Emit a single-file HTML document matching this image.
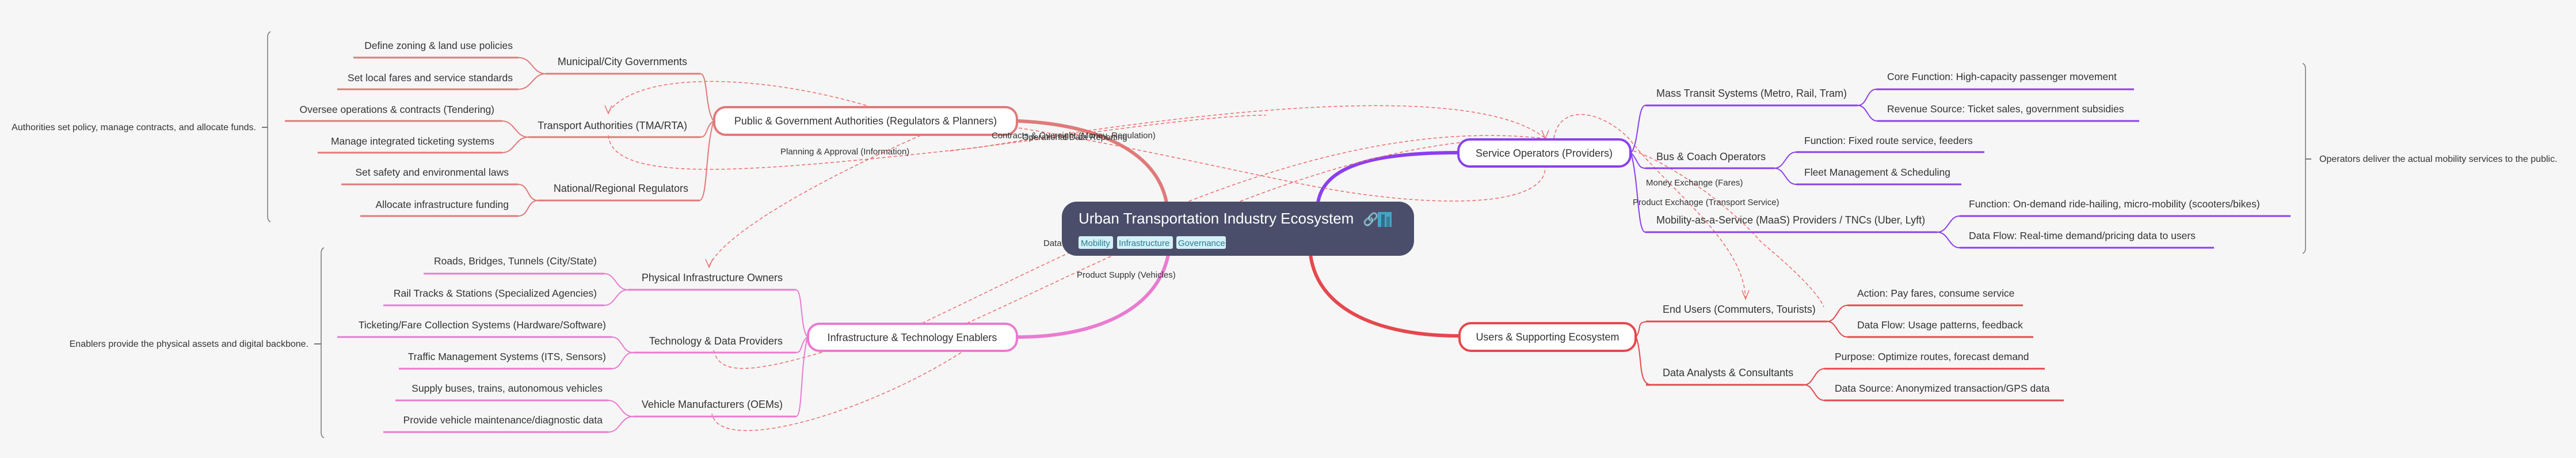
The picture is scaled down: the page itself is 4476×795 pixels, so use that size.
<!DOCTYPE html>
<html><head><meta charset="utf-8"><style>
html,body{margin:0;padding:0;background:#f6f6f6;}
svg{display:block;}
text{font-family:"Liberation Sans",sans-serif;fill:#333;}
.l2{font-size:18px;}
.lf{font-size:17.5px;}
.sm{font-size:16px;}
.cl{font-size:15px;}
.nd{font-size:18px;}
</style></head><body>
<svg width="4476" height="795" viewBox="0 0 4476 795" xmlns="http://www.w3.org/2000/svg">
<rect width="4476" height="795" fill="#f6f6f6"/>

<path d="M2027 352 C2010 260 1900 215 1768 210" stroke="#e07a7a" stroke-width="6" fill="none"/>
<path d="M2290 352 C2300 290 2380 265 2533 265" stroke="#8a3ff0" stroke-width="6" fill="none"/>
<path d="M2030 442 C2010 540 1900 585 1768 585" stroke="#ea7bd0" stroke-width="6" fill="none"/>
<path d="M2277 442 C2290 540 2400 583 2535 583" stroke="#e5484d" stroke-width="6" fill="none"/>

<g stroke="#ee6b6b" stroke-width="1.5" fill="none" stroke-dasharray="6,4">
<path d="M1515 186 C1330 130 1110 120 1057 195"/>
<path d="M1057 235 C1065 320 1300 300 1700 256 C2100 190 2560 140 2685 240"/>
<path d="M1770 222 C2000 260 2200 310 2320 330 C2500 360 2685 360 2685 290"/>
<path d="M1600 235 C1450 300 1260 400 1232 462"/>
<path d="M1602 561 C1900 420 2300 200 2680 240"/>
<path d="M1680 561 C1950 440 2350 220 2690 243"/>
<path d="M1240 608 C1250 650 1300 650 1440 608"/>
<path d="M1670 612 C1500 720 1250 790 1237 718"/>
<path d="M1650 262 C1900 230 2100 200 2200 200"/>
<path d="M2700 240 C2710 180 2780 190 2830 240 C2900 330 3030 420 3033 518"/>
<path d="M2838 262 C2870 270 2980 330 3060 420 C3120 470 3160 510 3169 533"/>
</g>
<g stroke="#ee6b6b" stroke-width="1.5" fill="none">
<path d="M1051 183 L1057 197 L1063 183"/>
<path d="M2679 226 L2685 241 L2691 226"/>
<path d="M1226 450 L1232 464 L1238 450"/>
<path d="M3027 504 L3033 519 L3039 504"/>
</g>

<g stroke="#e07a7a" fill="none">
<path d="M1240 210 C1225 190 1230 128 1217 128" stroke-width="2"/>
<path d="M1240 210 C1225 220 1230 238 1217 238" stroke-width="2"/>
<path d="M1240 210 C1225 260 1230 348 1215 348" stroke-width="2"/>
<path d="M948 128 H1217 M614 100 H901 M586 155 H900 M918 238 H1217 M495 210 H872 M552 265 H872 M935 348 H1215 M593 320 H900 M626 375 H900" stroke-width="3"/>
<path d="M948 128 C925 128 925 100 901 100 M948 128 C925 128 925 155 900 155" stroke-width="2"/>
<path d="M918 238 C895 238 895 210 872 210 M918 238 C895 238 895 265 872 265" stroke-width="2"/>
<path d="M935 348 C915 348 920 320 900 320 M935 348 C915 348 920 375 900 375" stroke-width="2"/>
</g>
<g class="l2" text-anchor="end">
<text x="1194" y="113">Municipal/City Governments</text>
<text x="1194" y="224">Transport Authorities (TMA/RTA)</text>
<text x="1196" y="333">National/Regional Regulators</text>
</g>
<g class="lf" text-anchor="end">
<text x="891" y="85">Define zoning &amp; land use policies</text>
<text x="891" y="141">Set local fares and service standards</text>
<text x="859" y="196">Oversee operations &amp; contracts (Tendering)</text>
<text x="859" y="251">Manage integrated ticketing systems</text>
<text x="884" y="305">Set safety and environmental laws</text>
<text x="884" y="361">Allocate infrastructure funding</text>
</g>
<path d="M470 55 Q465 57 465 65 V375 Q465 383 470 385" stroke="#777" stroke-width="1.5" fill="none"/>
<path d="M455 221 H465" stroke="#777" stroke-width="2"/>
<text class="sm" x="445" y="226" text-anchor="end">Authorities set policy, manage contracts, and allocate funds.</text>

<g stroke="#ea7bd0" fill="none">
<path d="M1403 585 C1390 570 1395 503 1383 503" stroke-width="2"/>
<path d="M1403 585 C1390 595 1395 612 1383 612" stroke-width="2"/>
<path d="M1403 585 C1390 640 1395 723 1383 723" stroke-width="2"/>
<path d="M1091 503 H1383 M736 475 H1050 M666 530 H1050 M1100 612 H1383 M586 585 H1063 M693 640 H1063 M1100 723 H1383 M687 695 H1057 M666 750 H1057" stroke-width="3"/>
<path d="M1091 503 C1070 503 1070 475 1050 475 M1091 503 C1070 503 1070 530 1050 530" stroke-width="2"/>
<path d="M1100 612 C1080 612 1082 585 1063 585 M1100 612 C1080 612 1082 640 1063 640" stroke-width="2"/>
<path d="M1100 723 C1078 723 1078 695 1057 695 M1100 723 C1078 723 1078 750 1057 750" stroke-width="2"/>
</g>
<g class="l2" text-anchor="end">
<text x="1360" y="488">Physical Infrastructure Owners</text>
<text x="1360" y="598">Technology &amp; Data Providers</text>
<text x="1360" y="708">Vehicle Manufacturers (OEMs)</text>
</g>
<g class="lf" text-anchor="end">
<text x="1037" y="459">Roads, Bridges, Tunnels (City/State)</text>
<text x="1037" y="515">Rail Tracks &amp; Stations (Specialized Agencies)</text>
<text x="1053" y="570">Ticketing/Fare Collection Systems (Hardware/Software)</text>
<text x="1053" y="625">Traffic Management Systems (ITS, Sensors)</text>
<text x="1047" y="680">Supply buses, trains, autonomous vehicles</text>
<text x="1047" y="735">Provide vehicle maintenance/diagnostic data</text>
</g>
<path d="M563 430 Q558 432 558 440 V750 Q558 758 563 760" stroke="#777" stroke-width="1.5" fill="none"/>
<path d="M546 597 H558" stroke="#777" stroke-width="2"/>
<text class="sm" x="536" y="602" text-anchor="end">Enablers provide the physical assets and digital backbone.</text>

<g stroke="#8a3ff0" fill="none">
<path d="M2834 265 C2848 250 2845 183 2859 183" stroke-width="2"/>
<path d="M2834 265 C2848 280 2845 292 2859 292" stroke-width="2"/>
<path d="M2834 265 C2848 320 2845 403 2859 403" stroke-width="2"/>
<path d="M2859 183 H3228 M3260 155 H3708 M3262 210 H3717 M2859 292 H3083 M3121 264 H3448 M3121 320 H3408 M2859 403 H3366 M3405 375 H3980 M3405 430 H3847" stroke-width="3"/>
<path d="M3228 183 C3245 183 3243 155 3260 155 M3228 183 C3245 183 3245 210 3262 210" stroke-width="2"/>
<path d="M3083 292 C3102 292 3102 264 3121 264 M3083 292 C3102 292 3102 320 3121 320" stroke-width="2"/>
<path d="M3366 403 C3386 403 3386 375 3405 375 M3366 403 C3386 403 3386 430 3405 430" stroke-width="2"/>
</g>
<g class="l2">
<text x="2878" y="168">Mass Transit Systems (Metro, Rail, Tram)</text>
<text x="2878" y="278">Bus &amp; Coach Operators</text>
<text x="2878" y="388">Mobility-as-a-Service (MaaS) Providers / TNCs (Uber, Lyft)</text>
</g>
<g class="lf">
<text x="3279" y="139">Core Function: High-capacity passenger movement</text>
<text x="3279" y="195">Revenue Source: Ticket sales, government subsidies</text>
<text x="3135" y="250">Function: Fixed route service, feeders</text>
<text x="3135" y="305">Fleet Management &amp; Scheduling</text>
<text x="3421" y="360">Function: On-demand ride-hailing, micro-mobility (scooters/bikes)</text>
<text x="3421" y="415">Data Flow: Real-time demand/pricing data to users</text>
</g>
<text class="cl" x="2860" y="322">Money Exchange (Fares)</text>
<text class="cl" x="2837" y="356">Product Exchange (Transport Service)</text>
<path d="M4001 110 Q4006 112 4006 120 V430 Q4006 438 4001 440" stroke="#777" stroke-width="1.5" fill="none"/>
<path d="M4006 276 H4016" stroke="#777" stroke-width="2"/>
<text class="sm" x="4030" y="281">Operators deliver the actual mobility services to the public.</text>

<g stroke="#e5484d" fill="none">
<path d="M2843 585 C2855 565 2840 558 2870 558" stroke-width="2"/>
<path d="M2843 585 C2855 620 2845 668 2870 668" stroke-width="2"/>
<path d="M2860 558 H3175 M3210 530 H3515 M3210 585 H3533 M2860 668 H3135 M3170 640 H3553 M3170 695 H3586" stroke-width="3"/>
<path d="M3175 558 C3192 558 3192 530 3210 530 M3175 558 C3192 558 3192 585 3210 585" stroke-width="2"/>
<path d="M3135 668 C3152 668 3152 640 3170 640 M3135 668 C3152 668 3152 695 3170 695" stroke-width="2"/>
</g>
<g class="l2">
<text x="2889" y="543">End Users (Commuters, Tourists)</text>
<text x="2889" y="653">Data Analysts &amp; Consultants</text>
</g>
<g class="lf">
<text x="3227" y="515">Action: Pay fares, consume service</text>
<text x="3227" y="570">Data Flow: Usage patterns, feedback</text>
<text x="3188" y="625">Purpose: Optimize routes, forecast demand</text>
<text x="3188" y="680">Data Source: Anonymized transaction/GPS data</text>
</g>

<rect x="1241" y="186" width="526" height="48" rx="20" fill="#fff" stroke="#e07a7a" stroke-width="4"/>
<text class="nd" x="1504" y="216" text-anchor="middle">Public &amp; Government Authorities (Regulators &amp; Planners)</text>
<rect x="2534" y="242" width="299" height="47" rx="20" fill="#fff" stroke="#8a3ff0" stroke-width="4"/>
<text class="nd" x="2683" y="272" text-anchor="middle">Service Operators (Providers)</text>
<rect x="1404" y="562" width="363" height="47" rx="20" fill="#fff" stroke="#ea7bd0" stroke-width="4"/>
<text class="nd" x="1585" y="592" text-anchor="middle">Infrastructure &amp; Technology Enablers</text>
<rect x="2536" y="561" width="306" height="48" rx="20" fill="#fff" stroke="#e5484d" stroke-width="4"/>
<text class="nd" x="2689" y="591" text-anchor="middle">Users &amp; Supporting Ecosystem</text>

<text class="cl" x="1723" y="240">Contracts &amp; Oversight (Money, Regulation)</text>
<text class="cl" x="1776" y="243">Operational Data Reporting</text>
<text class="cl" x="1356" y="268">Planning &amp; Approval (Information)</text>
<text class="cl" x="1813" y="427">Data</text>
<text class="cl" x="1871" y="482">Product Supply (Vehicles)</text>

<rect x="1845" y="350" width="612" height="94" rx="26" fill="#4b4e6a"/>
<text x="1874" y="388" style="font-size:26px;fill:#fff">Urban Transportation Industry Ecosystem</text>
<text x="2368" y="388" style="font-size:22px;fill:#9cc">🔗</text>
<rect x="2394" y="368" width="24" height="26" fill="#4aa3c8"/>
<rect x="2400" y="372" width="6" height="22" fill="#2d6f8a"/>
<rect x="2409" y="376" width="6" height="18" fill="#3a7f95"/>
<rect x="1874" y="410" width="60" height="22" rx="3" fill="#d4f0f7"/>
<text x="1878" y="427" style="font-size:15px;fill:#2a7c94">Mobility</text>
<rect x="1941" y="410" width="97" height="22" rx="3" fill="#d4f0f7"/>
<text x="1944" y="427" style="font-size:15px;fill:#2a7c94">Infrastructure</text>
<rect x="2044" y="410" width="86" height="22" rx="3" fill="#d4f0f7"/>
<text x="2047" y="427" style="font-size:15px;fill:#2a7c94">Governance</text>
</svg>
</body></html>
